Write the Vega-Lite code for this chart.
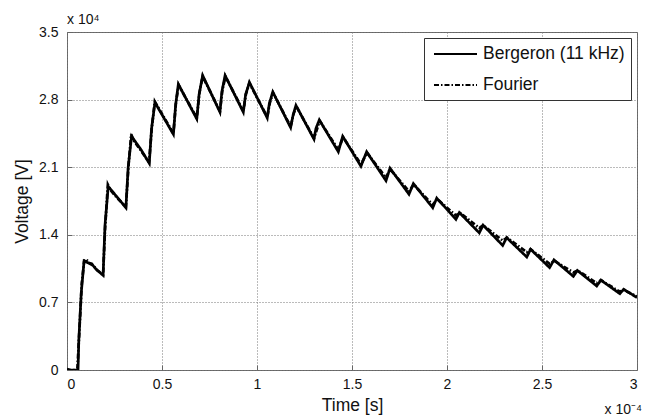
{
  "$schema": "https://vega.github.io/schema/vega-lite/v6.json",
  "width": 570,
  "height": 338,
  "autosize": {"type": "none"},
  "padding": {"left": 67, "top": 32, "right": 18, "bottom": 49},
  "background": "white",
  "config": {
    "font": "Liberation Sans",
    "view": {"stroke": "#666", "strokeWidth": 1},
    "axis": {
      "domain": false,
      "grid": true,
      "gridColor": "#777",
      "gridDash": [1, 2],
      "gridWidth": 1,
      "ticks": true,
      "tickSize": -5,
      "tickColor": "#666",
      "labelFont": "Liberation Sans",
      "labelFontSize": 14,
      "labelColor": "#111",
      "titleFont": "Liberation Sans",
      "titleFontSize": 17.5,
      "titleFontWeight": "normal",
      "titleColor": "#111"
    }
  },
  "data": {
    "values": [
      {"t": 0, "v": 0, "s": "Bergeron (11 kHz)"},
      {"t": 0.058, "v": 0, "s": "Bergeron (11 kHz)"},
      {"t": 0.062, "v": 0.3, "s": "Bergeron (11 kHz)"},
      {"t": 0.075, "v": 0.8, "s": "Bergeron (11 kHz)"},
      {"t": 0.09, "v": 1.13, "s": "Bergeron (11 kHz)"},
      {"t": 0.11, "v": 1.11, "s": "Bergeron (11 kHz)"},
      {"t": 0.13, "v": 1.1, "s": "Bergeron (11 kHz)"},
      {"t": 0.15, "v": 1.05, "s": "Bergeron (11 kHz)"},
      {"t": 0.19, "v": 0.98, "s": "Bergeron (11 kHz)"},
      {"t": 0.2, "v": 1.5, "s": "Bergeron (11 kHz)"},
      {"t": 0.217, "v": 1.9, "s": "Bergeron (11 kHz)"},
      {"t": 0.26, "v": 1.8, "s": "Bergeron (11 kHz)"},
      {"t": 0.31, "v": 1.68, "s": "Bergeron (11 kHz)"},
      {"t": 0.322, "v": 2.1, "s": "Bergeron (11 kHz)"},
      {"t": 0.34, "v": 2.42, "s": "Bergeron (11 kHz)"},
      {"t": 0.39, "v": 2.28, "s": "Bergeron (11 kHz)"},
      {"t": 0.433, "v": 2.14, "s": "Bergeron (11 kHz)"},
      {"t": 0.445, "v": 2.5, "s": "Bergeron (11 kHz)"},
      {"t": 0.463, "v": 2.77, "s": "Bergeron (11 kHz)"},
      {"t": 0.56, "v": 2.44, "s": "Bergeron (11 kHz)"},
      {"t": 0.572, "v": 2.75, "s": "Bergeron (11 kHz)"},
      {"t": 0.586, "v": 2.96, "s": "Bergeron (11 kHz)"},
      {"t": 0.683, "v": 2.6, "s": "Bergeron (11 kHz)"},
      {"t": 0.695, "v": 2.85, "s": "Bergeron (11 kHz)"},
      {"t": 0.714, "v": 3.05, "s": "Bergeron (11 kHz)"},
      {"t": 0.805, "v": 2.67, "s": "Bergeron (11 kHz)"},
      {"t": 0.815, "v": 2.88, "s": "Bergeron (11 kHz)"},
      {"t": 0.832, "v": 3.05, "s": "Bergeron (11 kHz)"},
      {"t": 0.928, "v": 2.67, "s": "Bergeron (11 kHz)"},
      {"t": 0.94, "v": 2.85, "s": "Bergeron (11 kHz)"},
      {"t": 0.96, "v": 2.98, "s": "Bergeron (11 kHz)"},
      {"t": 1.054, "v": 2.61, "s": "Bergeron (11 kHz)"},
      {"t": 1.065, "v": 2.76, "s": "Bergeron (11 kHz)"},
      {"t": 1.083, "v": 2.88, "s": "Bergeron (11 kHz)"},
      {"t": 1.177, "v": 2.51, "s": "Bergeron (11 kHz)"},
      {"t": 1.19, "v": 2.64, "s": "Bergeron (11 kHz)"},
      {"t": 1.205, "v": 2.74, "s": "Bergeron (11 kHz)"},
      {"t": 1.3, "v": 2.39, "s": "Bergeron (11 kHz)"},
      {"t": 1.31, "v": 2.5, "s": "Bergeron (11 kHz)"},
      {"t": 1.328, "v": 2.59, "s": "Bergeron (11 kHz)"},
      {"t": 1.428, "v": 2.26, "s": "Bergeron (11 kHz)"},
      {"t": 1.451, "v": 2.42, "s": "Bergeron (11 kHz)"},
      {"t": 1.547, "v": 2.11, "s": "Bergeron (11 kHz)"},
      {"t": 1.577, "v": 2.26, "s": "Bergeron (11 kHz)"},
      {"t": 1.679, "v": 1.96, "s": "Bergeron (11 kHz)"},
      {"t": 1.7, "v": 2.09, "s": "Bergeron (11 kHz)"},
      {"t": 1.8, "v": 1.82, "s": "Bergeron (11 kHz)"},
      {"t": 1.823, "v": 1.93, "s": "Bergeron (11 kHz)"},
      {"t": 1.925, "v": 1.68, "s": "Bergeron (11 kHz)"},
      {"t": 1.946, "v": 1.78, "s": "Bergeron (11 kHz)"},
      {"t": 2.047, "v": 1.56, "s": "Bergeron (11 kHz)"},
      {"t": 2.065, "v": 1.63, "s": "Bergeron (11 kHz)"},
      {"t": 2.17, "v": 1.42, "s": "Bergeron (11 kHz)"},
      {"t": 2.19, "v": 1.5, "s": "Bergeron (11 kHz)"},
      {"t": 2.293, "v": 1.29, "s": "Bergeron (11 kHz)"},
      {"t": 2.314, "v": 1.37, "s": "Bergeron (11 kHz)"},
      {"t": 2.42, "v": 1.17, "s": "Bergeron (11 kHz)"},
      {"t": 2.44, "v": 1.25, "s": "Bergeron (11 kHz)"},
      {"t": 2.54, "v": 1.06, "s": "Bergeron (11 kHz)"},
      {"t": 2.563, "v": 1.14, "s": "Bergeron (11 kHz)"},
      {"t": 2.665, "v": 0.97, "s": "Bergeron (11 kHz)"},
      {"t": 2.686, "v": 1.03, "s": "Bergeron (11 kHz)"},
      {"t": 2.788, "v": 0.87, "s": "Bergeron (11 kHz)"},
      {"t": 2.81, "v": 0.93, "s": "Bergeron (11 kHz)"},
      {"t": 2.91, "v": 0.79, "s": "Bergeron (11 kHz)"},
      {"t": 2.93, "v": 0.835, "s": "Bergeron (11 kHz)"},
      {"t": 3.0, "v": 0.75, "s": "Bergeron (11 kHz)"},
      {"t": 0, "v": 0.01, "s": "Fourier"},
      {"t": 0.03, "v": -0.01, "s": "Fourier"},
      {"t": 0.055, "v": 0.02, "s": "Fourier"},
      {"t": 0.065, "v": 0.4, "s": "Fourier"},
      {"t": 0.078, "v": 0.9, "s": "Fourier"},
      {"t": 0.09, "v": 1.12, "s": "Fourier"},
      {"t": 0.1, "v": 1.15, "s": "Fourier"},
      {"t": 0.12, "v": 1.1, "s": "Fourier"},
      {"t": 0.14, "v": 1.08, "s": "Fourier"},
      {"t": 0.16, "v": 1.03, "s": "Fourier"},
      {"t": 0.19, "v": 0.99, "s": "Fourier"},
      {"t": 0.2, "v": 1.45, "s": "Fourier"},
      {"t": 0.215, "v": 1.92, "s": "Fourier"},
      {"t": 0.23, "v": 1.86, "s": "Fourier"},
      {"t": 0.26, "v": 1.79, "s": "Fourier"},
      {"t": 0.31, "v": 1.69, "s": "Fourier"},
      {"t": 0.323, "v": 2.1, "s": "Fourier"},
      {"t": 0.338, "v": 2.44, "s": "Fourier"},
      {"t": 0.35, "v": 2.38, "s": "Fourier"},
      {"t": 0.39, "v": 2.27, "s": "Fourier"},
      {"t": 0.432, "v": 2.15, "s": "Fourier"},
      {"t": 0.446, "v": 2.5, "s": "Fourier"},
      {"t": 0.462, "v": 2.78, "s": "Fourier"},
      {"t": 0.56, "v": 2.45, "s": "Fourier"},
      {"t": 0.574, "v": 2.78, "s": "Fourier"},
      {"t": 0.588, "v": 2.95, "s": "Fourier"},
      {"t": 0.683, "v": 2.61, "s": "Fourier"},
      {"t": 0.697, "v": 2.87, "s": "Fourier"},
      {"t": 0.714, "v": 3.04, "s": "Fourier"},
      {"t": 0.805, "v": 2.68, "s": "Fourier"},
      {"t": 0.818, "v": 2.9, "s": "Fourier"},
      {"t": 0.834, "v": 3.04, "s": "Fourier"},
      {"t": 0.928, "v": 2.68, "s": "Fourier"},
      {"t": 0.942, "v": 2.86, "s": "Fourier"},
      {"t": 0.96, "v": 2.97, "s": "Fourier"},
      {"t": 1.054, "v": 2.62, "s": "Fourier"},
      {"t": 1.068, "v": 2.77, "s": "Fourier"},
      {"t": 1.085, "v": 2.87, "s": "Fourier"},
      {"t": 1.177, "v": 2.52, "s": "Fourier"},
      {"t": 1.192, "v": 2.65, "s": "Fourier"},
      {"t": 1.207, "v": 2.73, "s": "Fourier"},
      {"t": 1.3, "v": 2.4, "s": "Fourier"},
      {"t": 1.33, "v": 2.58, "s": "Fourier"},
      {"t": 1.428, "v": 2.28, "s": "Fourier"},
      {"t": 1.453, "v": 2.41, "s": "Fourier"},
      {"t": 1.547, "v": 2.13, "s": "Fourier"},
      {"t": 1.579, "v": 2.25, "s": "Fourier"},
      {"t": 1.679, "v": 1.99, "s": "Fourier"},
      {"t": 1.7, "v": 2.08, "s": "Fourier"},
      {"t": 1.8, "v": 1.85, "s": "Fourier"},
      {"t": 1.825, "v": 1.92, "s": "Fourier"},
      {"t": 1.925, "v": 1.71, "s": "Fourier"},
      {"t": 1.948, "v": 1.77, "s": "Fourier"},
      {"t": 2.047, "v": 1.6, "s": "Fourier"},
      {"t": 2.067, "v": 1.63, "s": "Fourier"},
      {"t": 2.17, "v": 1.47, "s": "Fourier"},
      {"t": 2.19, "v": 1.5, "s": "Fourier"},
      {"t": 2.293, "v": 1.34, "s": "Fourier"},
      {"t": 2.316, "v": 1.37, "s": "Fourier"},
      {"t": 2.42, "v": 1.22, "s": "Fourier"},
      {"t": 2.44, "v": 1.25, "s": "Fourier"},
      {"t": 2.54, "v": 1.1, "s": "Fourier"},
      {"t": 2.565, "v": 1.13, "s": "Fourier"},
      {"t": 2.665, "v": 1.01, "s": "Fourier"},
      {"t": 2.688, "v": 1.03, "s": "Fourier"},
      {"t": 2.788, "v": 0.9, "s": "Fourier"},
      {"t": 2.81, "v": 0.93, "s": "Fourier"},
      {"t": 2.91, "v": 0.81, "s": "Fourier"},
      {"t": 2.93, "v": 0.83, "s": "Fourier"},
      {"t": 3.0, "v": 0.76, "s": "Fourier"}
    ]
  },
  "layer": [
    {
      "mark": {"type": "line", "color": "black", "strokeWidth": 2.7, "clip": true},
      "encoding": {
        "x": {
          "field": "t", "type": "quantitative",
          "scale": {"domain": [0, 3], "nice": false, "zero": false},
          "axis": {"values": [0, 0.5, 1, 1.5, 2, 2.5, 3], "format": "~g", "title": "Time [s]", "labelPadding": 12, "titlePadding": 5}
        },
        "y": {
          "field": "v", "type": "quantitative",
          "scale": {"domain": [0, 3.5], "nice": false},
          "axis": {"values": [0, 0.7, 1.4, 2.1, 2.8, 3.5], "format": "~g", "title": "Voltage [V]", "labelPadding": 14, "titlePadding": 7}
        },
        "strokeDash": {
          "field": "s", "type": "nominal",
          "scale": {"domain": ["Bergeron (11 kHz)", "Fourier"], "range": [[1, 0], [5, 2, 1.5, 2]]},
          "legend": {
            "title": null,
            "orient": "top-right",
            "offset": 6,
            "strokeColor": "#333",
            "fillColor": "white",
            "padding": 6,
            "labelFont": "Liberation Sans",
            "labelFontSize": 17.5,
            "labelColor": "#111",
            "symbolType": "M-2.39,0H2.39",
            "symbolStrokeColor": "black",
            "symbolStrokeWidth": 2,
            "symbolSize": 324,
            "symbolOffset": 15.5,
            "labelOffset": 17.5,
            "rowPadding": 12
          }
        }
      }
    },
    {
      "data": {"values": [{}]},
      "mark": {"type": "text", "text": "x 10⁴", "align": "left", "baseline": "alphabetic", "dy": -8, "fontSize": 14, "font": "Liberation Sans", "color": "#111"},
      "encoding": {"x": {"datum": 0}, "y": {"datum": 3.5}}
    },
    {
      "data": {"values": [{}]},
      "mark": {"type": "text", "text": "x 10⁻⁴", "align": "right", "baseline": "alphabetic", "dy": 44, "dx": 5, "fontSize": 14, "font": "Liberation Sans", "color": "#111"},
      "encoding": {"x": {"datum": 3}, "y": {"datum": 0}}
    }
  ]
}
